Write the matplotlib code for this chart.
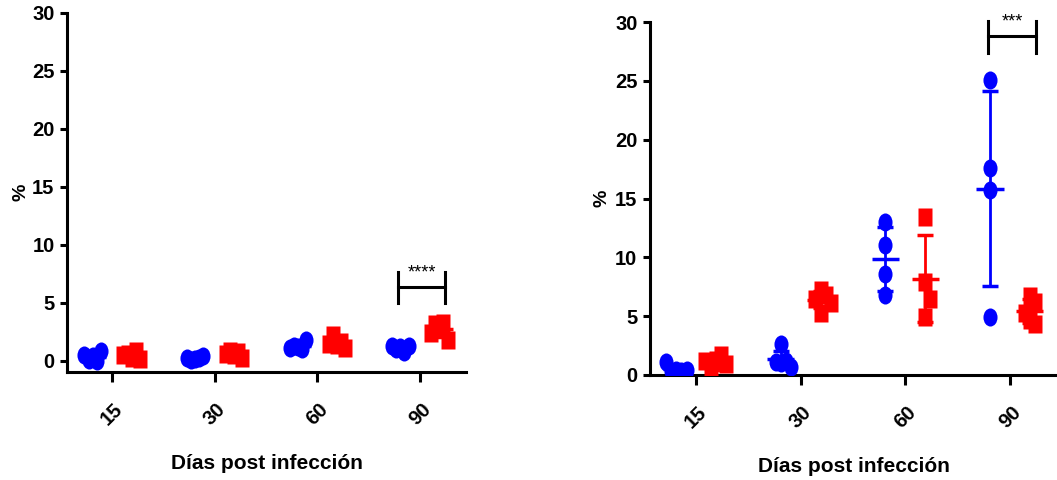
import matplotlib
matplotlib.use('Agg')
import matplotlib.pyplot as plt
from matplotlib.path import Path
import numpy as np

plt.rcParams['font.family'] = 'Liberation Sans'
plt.rcParams['font.weight'] = 'bold'
plt.rcParams['axes.labelweight'] = 'bold'
tick_font = ['Liberation Sans Narrow', 'Liberation Sans']

#%% Data (% per mouse, blue = circles, red = squares)
days = ['15', '30', '60', '90']

left_blue = [[0.4, 0.0, 0.1, 0.9, 0.5],
             [0.2, 0.3, 0.1, 0.4, 0.3],
             [1.2, 1.0, 1.3, 1.8, 1.1],
             [1.2, 0.8, 1.0, 1.3, 1.3]]
left_red = [[0.3, 0.9, 0.6, 0.2, 0.5],
            [0.5, 0.8, 0.9, 0.3, 0.6],
            [1.4, 1.6, 2.2, 1.1, 1.5],
            [2.9, 3.3, 3.2, 1.8, 2.4]]

right_blue = [[0.4, 0.35, 0.35, 0.4, 1.1],
              [2.6, 1.2, 1.1, 1.0, 0.7],
              [13.0, 11.05, 8.6, 6.8],
              [25.07, 17.6, 15.7, 4.96]]
right_red = [[1.3, 1.7, 0.1, 0.9, 1.2],
             [7.2, 6.8, 6.5, 6.1, 5.3],
             [13.45, 7.9, 6.5, 4.95],
             [6.7, 6.2, 5.3, 4.7, 4.3]]

left_stars = '****'
right_stars = '***'
xlabel = 'Días post infección'
ylabel = '%'

# slightly tall markers (oval dots, upright rectangles)
circ = Path.unit_circle()
dot = Path(circ.vertices * [0.78, 1.0], circ.codes)
box = Path([(-0.4, -0.5), (0.4, -0.5), (0.4, 0.5), (-0.4, 0.5), (-0.4, -0.5)],
           [Path.MOVETO, Path.LINETO, Path.LINETO, Path.LINETO, Path.CLOSEPOLY])


def swarm(vals, thr=1.6, step=0.05):
    # spread overlapping points sideways, column by column
    placed = []
    offs = []
    for v in vals:
        k = 0
        found = None
        while found is None:
            cands = [0.0] if k == 0 else [k * step, -k * step]
            for c in cands:
                if all(abs(v - pv) >= thr or abs(c - pc) >= step * 0.99 for pv, pc in placed):
                    found = c
                    break
            k += 1
        placed.append((v, found))
        offs.append(found)
    return np.array(offs)


def panel(ax, blue, red, ymin, stars, bar_y, step, ypad):
    for i in range(len(days)):
        for vals, dx, col, mk in [(blue[i], -0.19, 'blue', dot), (red[i], 0.19, 'red', box)]:
            vals = np.array(vals)
            xc = i + dx
            ax.plot(xc + swarm(vals, step=step), vals, ls='none', marker=mk, color=col,
                    ms=13, mec='none', zorder=3)
            m = vals.mean()
            sd = vals.std(ddof=1)
            ax.plot([xc - 0.13, xc + 0.13], [m, m], color=col, lw=2.5, zorder=4,
                    solid_capstyle='butt')
            ax.errorbar(xc, m, yerr=sd, color=col, lw=2, capsize=6, capthick=2.5,
                        zorder=4)

    # significance bracket at 90 days
    x0, x1 = 2.79, 3.25
    ax.plot([x0, x1], [bar_y, bar_y], color='black', lw=2.2, clip_on=False)
    ax.plot([x0, x0], [bar_y - 1.4, bar_y + 1.3], color='black', lw=2.2, clip_on=False)
    ax.plot([x1, x1], [bar_y - 1.4, bar_y + 1.3], color='black', lw=2.2, clip_on=False)
    ax.text((x0 + x1) / 2, bar_y + 1.2, stars, ha='center', va='center',
            fontsize=13, fontweight='normal')

    ax.set_xlim(-0.44, 3.45)
    ax.set_ylim(ymin, 30)
    ax.set_yticks(np.arange(0, 31, 5))
    ax.set_xticks(range(len(days)))
    ax.set_xticklabels(days, rotation=45, ha='center')
    for lab in ax.get_xticklabels() + ax.get_yticklabels():
        lab.set_fontfamily(tick_font)
    ax.spines['top'].set_visible(False)
    ax.spines['right'].set_visible(False)
    ax.spines['left'].set_linewidth(2.2)
    ax.spines['bottom'].set_linewidth(2.2)
    ax.spines['left'].set_bounds(ymin, 30)
    ax.tick_params(axis='y', length=5, width=2.2, pad=4, labelsize=14.5)
    ax.tick_params(axis='x', length=7, width=2.2, pad=13, labelsize=14.5)
    ax.set_xlabel(xlabel, fontsize=15, labelpad=18)
    ax.set_ylabel(ylabel, fontsize=14, labelpad=ypad)


fig = plt.figure(figsize=(10.57, 4.8), dpi=100)
ax1 = fig.add_axes([67 / 1057, 108 / 480, 399 / 1057, 359 / 480])
ax2 = fig.add_axes([650 / 1057, 105 / 480, 407 / 1057, 353 / 480])

panel(ax1, left_blue, left_red, -0.95, left_stars, 6.4, 0.04, 2)
panel(ax2, right_blue, right_red, 0, right_stars, 28.8, 0.05, 3)

fig.savefig('out.png', dpi=100)
